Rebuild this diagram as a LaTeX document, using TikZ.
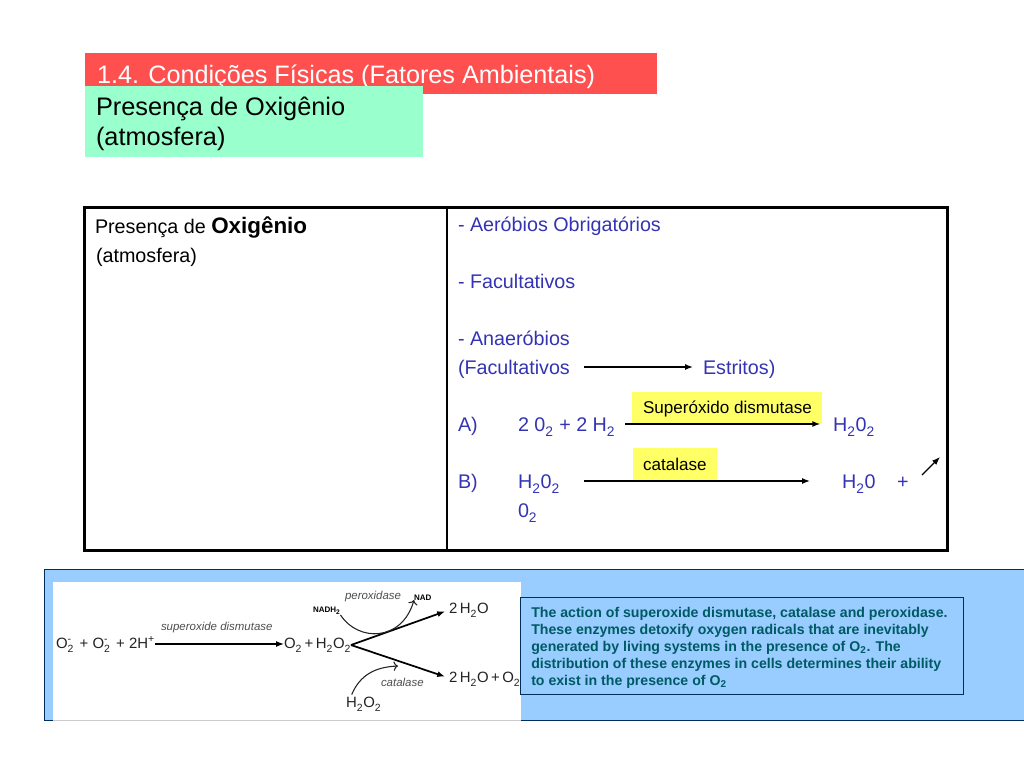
\documentclass[tikz,border=0pt]{standalone}
\usepackage{fontspec}
\setmainfont{Liberation Sans}
\usetikzlibrary{shapes,arrows,arrows.meta,positioning}
\definecolor{titlered}{RGB}{255,80,80}
\definecolor{titlegreen}{RGB}{153,255,204}
\definecolor{listblue}{RGB}{51,51,179}
\definecolor{noteyellow}{RGB}{255,255,102}
\definecolor{panelblue}{RGB}{153,204,255}
\definecolor{panelline}{RGB}{0,45,90}
\definecolor{noteteal}{RGB}{0,90,100}
\definecolor{inkgray}{RGB}{35,35,35}
\newcommand{\lowtwo}{\raisebox{-0.25ex}{\textsubscript{2}}}
\newcommand{\ionox}{O\rlap{\lowtwo}\textsuperscript{-}\hspace{0.25em}}
\tikzset{
	box/.style={rectangle, anchor=north west, inner sep=0pt, outer sep=0pt},
	txt/.style={anchor=base west, inner sep=0pt, outer sep=0pt},
	heading/.style={txt, font=\fontsize{19}{19}\selectfont},
	celltxt/.style={txt, font=\fontsize{14.8}{17}\selectfont},
	listtxt/.style={txt, text=listblue, text height=12.5pt, text depth=2pt, font=\fontsize{14.8}{17}\selectfont},
	enzyme/.style={box, fill=noteyellow},
	enzymetxt/.style={txt, font=\fontsize{12.8}{15}\selectfont},
	chem/.style={txt, text=inkgray, font=\fontsize{11.2}{12}\selectfont},
	chemname/.style={txt, text=inkgray!80, font=\fontsize{8.6}{9}\itshape\selectfont},
	nadtxt/.style={txt, font=\fontsize{6}{6}\bfseries\selectfont},
	flow/.style={-{Latex[length=6pt,width=4.5pt]}, line width=1pt},
}
\begin{document}
\begin{tikzpicture}[x=0.75pt, y=-0.75pt]
	\useasboundingbox (0,0) rectangle (1024,768);

	% Draw heading bars
	\node[box, fill=titlered, minimum width=429pt, minimum height=30.75pt] (redbar) at (85,53) {};
	\node[heading, text=white, font=\fontsize{18.9}{19}\selectfont] (title) at (97,83) {1.4. Condições Físicas (Fatores Ambientais)};
	\node[box, fill=titlegreen, minimum width=253.5pt, minimum height=53.25pt] (greenbar) at (85,86) {};
	\node[heading] (subtitle1) at (96,115) {Presença de Oxigênio};
	\node[heading] (subtitle2) at (96,145) {(atmosfera)};

	% Draw table
	\node[box, draw, line width=2.1pt, minimum width=647.25pt, minimum height=257.25pt] (table) at (84.5,207.5) {};
	\coordinate (splittop) at (447,207);
	\coordinate (splitbottom) at (447,551);
	\draw[line width=0.9pt] (splittop) -- (splitbottom);

	% Left cell
	\node[celltxt] (presence) at (95,233) {Presença de {\fontsize{16.8}{18}\bfseries\selectfont Oxigênio}};
	\node[celltxt] (atmos) at (96,262) {(atmosfera)};

	% Right cell
	\node[listtxt] (aerob) at (458,231) {- Aeróbios Obrigatórios};
	\node[listtxt] (facul) at (458,288) {- Facultativos};
	\node[listtxt] (anaer) at (458,345) {- Anaeróbios};
	\node[listtxt] (fac) at (458,374) {(Facultativos};
	\node[listtxt] (est) at (703,374) {Estritos)};
	\draw[flow, shorten <=10.5pt, shorten >=7.5pt] (fac) -- (est);

	% Enzyme labels
	\node[enzyme, minimum width=142.5pt, minimum height=24pt] (sodbox) at (632,392) {};
	\node[enzymetxt] (sodtxt) at (643,413) {Superóxido dismutase};
	\node[enzyme, minimum width=63pt, minimum height=24pt] (catbox) at (633,448) {};
	\node[enzymetxt] (cattxt) at (643,470) {catalase};

	% Reactions
	\node[listtxt] (rowa) at (458,431) {A)};
	\node[listtxt] (lefta) at (518,431) {2 0\lowtwo{} + 2 H\lowtwo};
	\node[listtxt] (righta) at (833,431) {H\lowtwo{}0\lowtwo};
	\draw[flow, shorten <=7.5pt, shorten >=9.5pt] (lefta) -- (righta);
	\node[listtxt] (rowb) at (458,488) {B)};
	\node[listtxt] (leftb) at (518,488) {H\lowtwo{}0\lowtwo};
	\node[listtxt] (rightb) at (842,488) {H\lowtwo{}0};
	\draw[flow, shorten <=18pt, shorten >=24pt] (leftb) -- (rightb);
	\node[listtxt] (plus) at (897,488) {+};
	\node[listtxt] (oxy) at (518,517) {0\lowtwo};
	\coordinate (gasfoot) at (922,475);
	\coordinate (gashead) at (940,457);
	\draw[flow] (gasfoot) -- (gashead);

	% Bottom panel and scheme
	\node[box, draw=panelline, fill=panelblue, line width=0.6pt, minimum width=735pt, minimum height=113.25pt] (panel) at (44,569) {};
	\node[box, fill=white, minimum width=351pt, minimum height=103.5pt] (scheme) at (53,582) {};
	\draw[gray!40, line width=0.6pt] (scheme.south west) -- (scheme.south east);

	\node[chem] (sodin) at (56,648) {\ionox{} + \ionox{} + 2H\textsuperscript{+}};
	\node[chem] (sodout) at (284,648) {O\lowtwo\,+\,H\lowtwo{}O\lowtwo};
	\draw[flow] (sodin.east |- 153,644) -- (sodout.west |- 280,644);
	\node[chemname] (sodname) at (161,630) {superoxide dismutase};

	\coordinate (fork) at (351,645);
	\node[chem] (water) at (449,613) {2\,H\lowtwo{}O};
	\node[chem] (wateroxy) at (449,682) {2\,H\lowtwo{}O\,+\,O\lowtwo};
	\draw[flow, line width=1.3pt, shorten >=3pt] (fork) -- (water.west |- 449,610);
	\draw[flow, line width=1.3pt, shorten >=3pt] (fork) -- (wateroxy.west |- 449,678);

	\node[chemname] (perox) at (345,599) {peroxidase};
	\node[nadtxt] (nad) at (414,600) {NAD};
	\node[nadtxt] (nadh) at (313,612) {NADH\lowtwo};
	\draw[->, inkgray, line width=0.8pt] (nadh.south east) .. controls (358,642) and (402,642) .. (nad.south west);

	\node[chemname] (catname) at (381,686) {catalase};
	\node[chem] (peroxin) at (346,707) {H\lowtwo{}O\lowtwo};
	\draw[->, inkgray, line width=0.8pt] (peroxin.north) ++(-12,-2) coordinate (peroxtop) .. controls (360,675) and (375,667) .. (398,666);

	% Explanatory note
	\node[box, draw=panelline, fill=panelblue, line width=0.6pt, minimum width=332.25pt, minimum height=72.75pt] (notebox) at (520,597) {};
	\node[anchor=north west, inner sep=0pt, text=noteteal, align=left, font=\fontsize{10.6}{12.75}\bfseries\selectfont] (notetxt) at (531,607) {The action of superoxide dismutase, catalase and peroxidase.\\
		These enzymes detoxify oxygen radicals that are inevitably\\
		generated by living systems in the presence of O\textsubscript{2}. The\\
		distribution of these enzymes in cells determines their ability\\
		to exist in the presence of O\textsubscript{2}};
\end{tikzpicture}
\end{document}
